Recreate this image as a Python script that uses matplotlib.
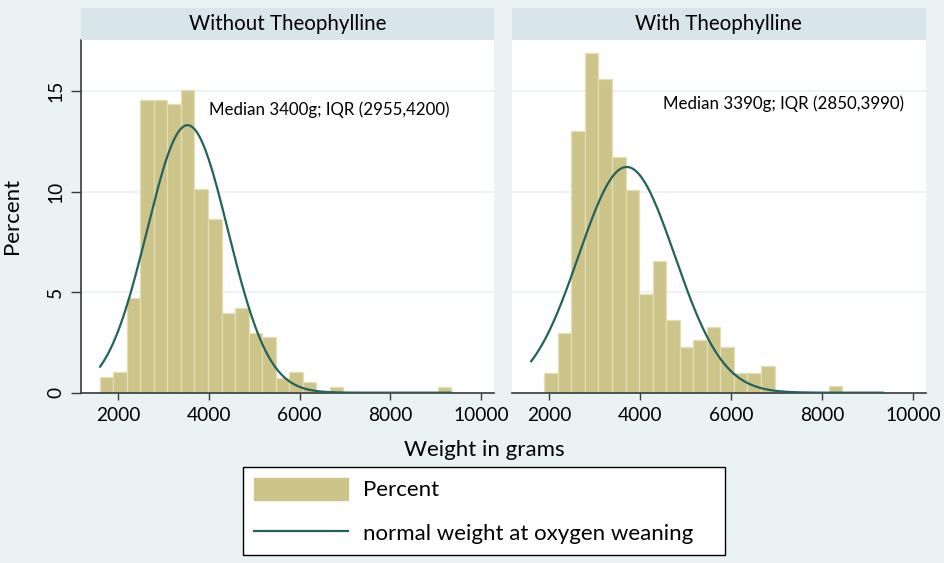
import numpy as np
import matplotlib
matplotlib.use('Agg')
import matplotlib.pyplot as plt
from matplotlib.patches import Patch
from matplotlib.lines import Line2D

plt.rcParams['font.family'] = ['Lato', 'DejaVu Sans']

# histogram data (percent per bin)
start_without = 1596
width_without = 297.8
pct_without = [0.76, 1.04, 4.72, 14.57, 14.57, 14.34, 15.07, 10.13, 8.63, 3.97,
               4.21, 2.98, 2.75, 0.75, 1.04, 0.53, 0.0, 0.3, 0.0, 0.0,
               0.0, 0.0, 0.0, 0.0, 0.0, 0.3]

start_with = 1890
width_with = 298.0
pct_with = [0.99, 2.95, 13.0, 16.9, 15.6, 11.7, 10.07, 4.9, 6.54, 3.6,
            2.28, 2.6, 3.28, 2.28, 0.99, 0.99, 1.31, 0.0, 0.0, 0.0,
            0.0, 0.33]

# fitted normal curves
mean_without, sd_without = 3527, 893
mean_with, sd_with = 3703, 1059
curve_min, curve_max = 1600, 9340

titles = ['Without Theophylline', 'With Theophylline']
notes = ['Median 3400g; IQR (2955,4200)', 'Median 3390g; IQR (2850,3990)']
note_pos = [(4000, 14.09), (4500, 14.37)]
xticks = [2000, 4000, 6000, 8000, 10000]
yticks = [0, 5, 10, 15]

bg = '#EAF2F4'
strip_col = '#D8E5EB'
bar_col = '#CCC488'
edge_col = '#E4DEB8'
line_col = '#24625C'
axis_col = '#3A3A3A'

fig = plt.figure(figsize=(9.45, 5.63), dpi=100)
fig.patch.set_facecolor(bg)

W, H = 945.0, 563.0
panels = [(80.7, 413.6), (511.7, 414.3)]
ybot, ytop = 392.7, 40.0
strip_top = 8.3

datasets = [(start_without, width_without, pct_without, mean_without, sd_without),
            (start_with, width_with, pct_with, mean_with, sd_with)]

for i, (x0, w) in enumerate(panels):
    ax = fig.add_axes([x0 / W, 1 - ybot / H, w / W, (ybot - ytop) / H])
    ax.set_facecolor('white')
    start, bw, pct, mu, sd = datasets[i]
    lefts = start + bw * np.arange(len(pct))
    ax.bar(lefts, pct, width=bw, align='edge', color=bar_col,
           edgecolor=edge_col, linewidth=0.9, zorder=2)
    xs = np.linspace(curve_min, curve_max, 400)
    ys = 100 * bw * np.exp(-0.5 * ((xs - mu) / sd) ** 2) / (sd * np.sqrt(2 * np.pi))
    ax.plot(xs, ys, color=line_col, lw=1.6, zorder=3)
    ax.text(note_pos[i][0], note_pos[i][1], notes[i], ha='left', va='center',
            fontsize=12.2, color='black', zorder=4)

    ax.set_xlim(1172, 10290)
    ax.set_ylim(0, 17.54)
    ax.set_xticks(xticks)
    ax.set_yticks(yticks)
    ax.grid(axis='y', color=bg, lw=1.2, zorder=1)
    ax.set_axisbelow(True)
    for s in ['top', 'right']:
        ax.spines[s].set_visible(False)
    ax.spines['bottom'].set_color(axis_col)
    ax.spines['bottom'].set_linewidth(1.2)
    ax.tick_params(axis='x', direction='out', length=5, width=1, color=axis_col,
                   labelsize=13.8, pad=5)
    if i == 0:
        ax.spines['left'].set_color(axis_col)
        ax.spines['left'].set_linewidth(1.2)
        ax.tick_params(axis='y', direction='out', length=7, width=1, color=axis_col,
                       labelsize=13.8, pad=5)
        for lab in ax.get_yticklabels():
            lab.set_rotation(90)
            lab.set_va('center')
        ax.set_ylabel('Percent', fontsize=16)
        ax.yaxis.set_label_coords(21.7 / w - x0 / w, 0.5)
    else:
        ax.spines['left'].set_visible(False)
        ax.tick_params(axis='y', left=False, labelleft=False)

    # title strip
    sax = fig.add_axes([x0 / W, 1 - ytop / H, w / W, (ytop - strip_top) / H])
    sax.set_facecolor(strip_col)
    sax.set_xticks([])
    sax.set_yticks([])
    for s in sax.spines.values():
        s.set_visible(False)
    sax.text(0.5, 0.5, titles[i], ha='center', va='center', fontsize=14.8,
             transform=sax.transAxes)

fig.text(484 / W, 1 - 450 / H, 'Weight in grams', ha='center', va='center', fontsize=16)

handles = [Patch(facecolor=bar_col, edgecolor=bar_col),
           Line2D([0], [0], color=line_col, lw=1.6)]
labels = ['Percent', 'normal weight at oxygen weaning']
leg = fig.legend(handles, labels, loc='upper left',
                 bbox_to_anchor=(243.3 / W, 1 - 472.3 / H, 482 / W, 0.01),
                 mode='expand', borderaxespad=0, fontsize=16,
                 handlelength=4.23, handleheight=1.13, handletextpad=0.66,
                 labelspacing=0.95, borderpad=0.5, fancybox=False,
                 edgecolor='black', framealpha=1, facecolor='white')
leg.get_frame().set_linewidth(1.0)

fig.savefig('out.png', dpi=100, facecolor=bg)
